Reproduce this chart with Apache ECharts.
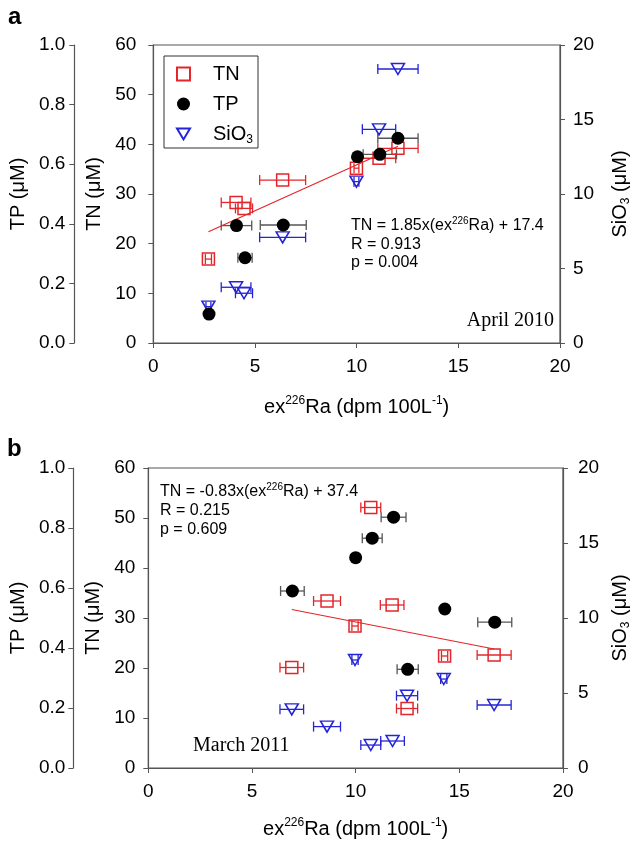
<!DOCTYPE html>
<html><head><meta charset="utf-8">
<script src="https://cdn.jsdelivr.net/npm/echarts@6/dist/echarts.min.js"></script>
<style>html,body{margin:0;padding:0;background:#fff}#c{width:640px;height:843px}</style>
</head><body><div id="c"></div><script>
// ---------- data ----------
const xMin = 0, xMax = 20, xInterval = 5;
const tnMax = 60, tnInterval = 10;
const tpMax = 1.0, tpInterval = 0.2;
const siMax = 20, siInterval = 5;
const legendNames = ['TN', 'TP', 'SiO3'];

// Panel a: April 2010
const a_TN_x   = [2.71, 4.07, 4.46, 6.36, 9.99, 11.10, 12.03];
const a_TN_y   = [16.9, 28.3, 27.1, 32.8, 35.2, 37.2, 39.2];
const a_TN_err = [0.15, 0.73, 0.42, 1.13, 0.12, 0.82, 0.99];
const a_TP_x   = [2.74, 4.09, 4.51, 6.39, 10.04, 11.14, 12.03];
const a_TP_y   = [0.097, 0.394, 0.286, 0.396, 0.625, 0.633, 0.687];
const a_TP_err = [0, 0.75, 0.35, 1.13, 0, 0.82, 0.99];
const a_Si_x   = [2.71, 4.07, 4.46, 6.36, 9.99, 11.10, 12.03];
const a_Si_y   = [2.44, 3.74, 3.34, 7.09, 10.83, 14.34, 18.39];
const a_Si_err = [0.12, 0.73, 0.42, 1.13, 0.12, 0.82, 0.99];
const a_fit_x  = [2.71, 12.03];
const a_fit_y  = [22.4, 39.6];
const a_eq     = ['TN = 1.85x(ex', '226', 'Ra) + 17.4'];
const a_R      = 'R = 0.913';
const a_p      = 'p = 0.004';
const a_date   = 'April 2010';

// Panel b: March 2011
const b_TN_x   = [10.73, 8.62, 11.76, 9.97, 14.29, 16.68, 6.92, 12.48];
const b_TN_y   = [52.1, 33.4, 32.6, 28.4, 22.4, 22.6, 20.1, 11.9];
const b_TN_err = [0.48, 0.65, 0.57, 0.15, 0.15, 0.82, 0.57, 0.51];
const b_TP_x   = [11.83, 10.80, 10.00, 6.95, 14.30, 16.71, 12.51];
const b_TP_y   = [0.836, 0.766, 0.701, 0.590, 0.530, 0.486, 0.329];
const b_TP_err = [0.60, 0.48, 0, 0.57, 0, 0.82, 0.51];
const b_Si_x   = [9.97, 14.25, 12.48, 16.68, 6.92, 8.62, 10.73, 11.78];
const b_Si_y   = [7.20, 5.93, 4.82, 4.20, 3.91, 2.76, 1.53, 1.80];
const b_Si_err = [0.15, 0.15, 0.51, 0.82, 0.57, 0.65, 0.48, 0.57];
const b_fit_x  = [6.92, 16.68];
const b_fit_y  = [31.7, 23.8];
const b_eq     = ['TN = -0.83x(ex', '226', 'Ra) + 37.4'];
const b_R      = 'R = 0.215';
const b_p      = 'p = 0.609';
const b_date   = 'March 2011';

// ---------- styles ----------
const RED = '#e3262b', BLUE = '#2424d6', BLACK = '#000', GREYBAR = '#555';
const AX = '#555';
const SANS = '"Liberation Sans", Arial, sans-serif';
const SERIF = '"Liberation Serif", "Times New Roman", serif';
const DOWN_TRI = 'path://M0,0L12,0L6,10Z';

const rich = {
  t:   {fontFamily: SANS, fontSize: 20, color: '#000', lineHeight: 24},
  sup: {fontFamily: SANS, fontSize: 12, color: '#000', lineHeight: 12, verticalAlign: 'top'},
  sub: {fontFamily: SANS, fontSize: 12, color: '#000', lineHeight: 12, verticalAlign: 'bottom'},
  sp:  {width: 18}
};
const eqRich = {
  t:   {fontFamily: SANS, fontSize: 16, color: '#000', lineHeight: 20},
  sup: {fontFamily: SANS, fontSize: 10, color: '#000', lineHeight: 10, verticalAlign: 'top'}
};

const zip3 = (x, y, e) => x.map((v, i) => [v, y[i], e[i]]);
const zip2 = (x, y) => x.map((v, i) => [v, y[i]]);

function errRender(color) {
  return function (params, api) {
    const x = api.value(0), y = api.value(1), e = api.value(2);
    if (!e) return {type: 'group', children: []};
    const p1 = api.coord([x - e, y]), p2 = api.coord([x + e, y]);
    const h = 5;
    const style = {stroke: color, lineWidth: 1.3, fill: null};
    return {type: 'group', children: [
      {type: 'line', shape: {x1: p1[0], y1: p1[1], x2: p2[0], y2: p2[1]}, style},
      {type: 'line', shape: {x1: p1[0], y1: p1[1] - h, x2: p1[0], y2: p1[1] + h}, style},
      {type: 'line', shape: {x1: p2[0], y1: p2[1] - h, x2: p2[0], y2: p2[1] + h}, style}
    ]};
  };
}

function xAxisDef(gi, gap) {
  return {
    type: 'value', gridIndex: gi, min: xMin, max: xMax, interval: xInterval,
    axisLine: {show: true, lineStyle: {color: AX, width: 1.2}},
    axisTick: {show: true, inside: false, length: 5, lineStyle: {color: AX}},
    axisLabel: {fontFamily: SANS, fontSize: 19, color: '#000', margin: 14},
    splitLine: {show: false},
    name: '{t|ex}{sup|226}{t|Ra (dpm 100L}{sup|-1}{t|)}',
    nameLocation: 'middle', nameGap: gap, nameTextStyle: {rich}
  };
}
function yAxisDefs(gi, opt) {
  const common = {
    type: 'value', gridIndex: gi, min: 0, splitLine: {show: false},
    axisLine: {show: true, lineStyle: {color: AX, width: 1.2}},
    axisTick: {show: true, inside: false, length: 5, lineStyle: {color: AX}},
    nameLocation: 'middle', nameTextStyle: {rich}
  };
  return [
    Object.assign({}, common, {position: 'left', max: tnMax, interval: tnInterval,
      axisLabel: {fontFamily: SANS, fontSize: 19, color: '#000', margin: opt.tnMargin},
      name: '{t|TN (μM)}', nameGap: opt.tnGap}),
    Object.assign({}, common, {position: 'left', offset: opt.tpOffset, max: tpMax, interval: tpInterval,
      axisLabel: {fontFamily: SANS, fontSize: 19, color: '#000', margin: opt.tpMargin, formatter: v => v.toFixed(1)},
      name: '{t|TP (μM)}', nameGap: opt.tpGap}),
    Object.assign({}, common, {position: 'right', max: siMax, interval: siInterval,
      axisLabel: {fontFamily: SANS, fontSize: 19, color: '#000', margin: opt.siMargin},
      name: '{t|SiO}{sub|3}{t| (μM)}', nameGap: opt.siGap})
  ];
}

function panelSeries(gi, yBase, d) {
  return [
    {type: 'custom', name: 'TN err', xAxisIndex: gi, yAxisIndex: yBase, renderItem: errRender(RED),
      data: zip3(d.tnx, d.tny, d.tne), encode: {x: 0, y: 1}, z: 2, silent: true},
    {type: 'custom', name: 'TP err', xAxisIndex: gi, yAxisIndex: yBase + 1, renderItem: errRender(GREYBAR),
      data: zip3(d.tpx, d.tpy, d.tpe), encode: {x: 0, y: 1}, z: 2, silent: true},
    {type: 'custom', name: 'Si err', xAxisIndex: gi, yAxisIndex: yBase + 2, renderItem: errRender(BLUE),
      data: zip3(d.six, d.siy, d.sie), encode: {x: 0, y: 1}, z: 2, silent: true},
    {type: 'line', name: 'fit', xAxisIndex: gi, yAxisIndex: yBase, data: zip2(d.fx, d.fy),
      showSymbol: false, symbol: 'none', lineStyle: {color: RED, width: 1.2}, z: 3, silent: true},
    {type: 'scatter', name: 'TN', xAxisIndex: gi, yAxisIndex: yBase, data: zip2(d.tnx, d.tny),
      symbol: 'rect', symbolSize: 12,
      itemStyle: {color: 'rgba(255,255,255,0)', borderColor: RED, borderWidth: 1.5, opacity: 1}, z: 4},
    {type: 'scatter', name: 'TP', xAxisIndex: gi, yAxisIndex: yBase + 1, data: zip2(d.tpx, d.tpy),
      symbol: 'circle', symbolSize: 13, itemStyle: {color: BLACK, opacity: 1}, z: 5},
    {type: 'scatter', name: 'SiO3', xAxisIndex: gi, yAxisIndex: yBase + 2, data: zip2(d.six, d.siy),
      symbol: DOWN_TRI, symbolSize: [13, 11],
      itemStyle: {color: 'rgba(255,255,255,0)', borderColor: BLUE, borderWidth: 1.5, opacity: 1}, z: 4}
  ];
}

function eqText(x, y, parts) {
  return {type: 'text', left: x, top: y, silent: true,
    style: {text: '{t|' + parts[0] + '}{sup|' + parts[1] + '}{t|' + parts[2] + '}', rich: eqRich}};
}
function plainText(x, y, s, font, align) {
  return {type: 'text', x: x, y: y, silent: true,
    style: {text: s, font: font, fill: '#000', align: align || 'left', verticalAlign: 'middle'}};
}

const chart = echarts.init(document.getElementById('c'), null, {renderer: 'canvas'});
chart.setOption({
  animation: false,
  backgroundColor: '#fff',
  grid: [
    {left: 152, top: 45, width: 411, height: 298, show: true, borderColor: AX, borderWidth: 1.2, backgroundColor: 'transparent'},
    {left: 147, top: 468, width: 420, height: 300, show: true, borderColor: AX, borderWidth: 1.2, backgroundColor: 'transparent'}
  ],
  xAxis: [xAxisDef(0, 52), xAxisDef(1, 49)],
  yAxis: yAxisDefs(0, {tnMargin: 17, tnGap: 40, tpOffset: 79, tpMargin: 9, tpGap: 36, siMargin: 13, siGap: 48})
    .concat(yAxisDefs(1, {tnMargin: 13, tnGap: 40, tpOffset: 75, tpMargin: 8, tpGap: 37, siMargin: 15, siGap: 45})),
  legend: {
    data: legendNames, orient: 'vertical', left: 164, top: 56,
    padding: [8, 5, 2, 12], itemGap: 10, itemWidth: 13, itemHeight: 13,
    borderColor: '#333', borderWidth: 1, selectedMode: false,
    formatter: n => n === 'SiO3' ? '{sp|}{t|SiO}{sub|3}' : '{sp|}{t|' + n + '}',
    textStyle: {rich}
  },
  series: panelSeries(0, 0, {tnx: a_TN_x, tny: a_TN_y, tne: a_TN_err, tpx: a_TP_x, tpy: a_TP_y, tpe: a_TP_err,
      six: a_Si_x, siy: a_Si_y, sie: a_Si_err, fx: a_fit_x, fy: a_fit_y})
    .concat(panelSeries(1, 3, {tnx: b_TN_x, tny: b_TN_y, tne: b_TN_err, tpx: b_TP_x, tpy: b_TP_y, tpe: b_TP_err,
      six: b_Si_x, siy: b_Si_y, sie: b_Si_err, fx: b_fit_x, fy: b_fit_y})),
  graphic: [
    plainText(8, 17, 'a', 'bold 24px ' + SANS),
    plainText(7, 449, 'b', 'bold 24px ' + SANS),
    eqText(351, 216, a_eq),
    plainText(351, 245, a_R, '16px ' + SANS),
    plainText(351, 263, a_p, '16px ' + SANS),
    plainText(554, 321, a_date, '20px ' + SERIF, 'right'),
    eqText(160, 482, b_eq),
    plainText(160, 511, b_R, '16px ' + SANS),
    plainText(160, 530, b_p, '16px ' + SANS),
    plainText(193, 746, b_date, '20px ' + SERIF)
  ]
});
</script></body></html>
